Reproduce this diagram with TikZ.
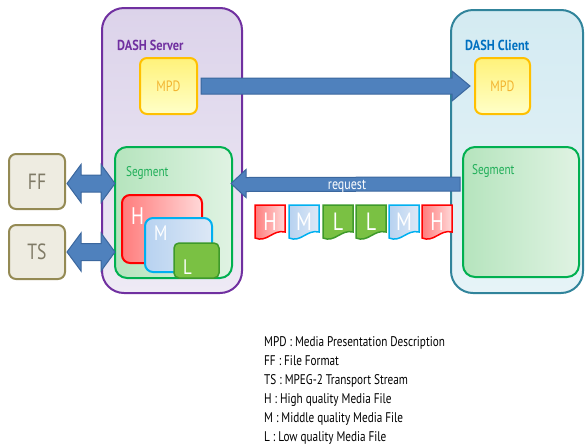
\documentclass[tikz,border=0pt]{standalone}
\usepackage{fontspec}
\setmainfont{PT Sans}
\newfontfamily\nar{PT Sans}[FakeStretch=0.8]
\newfontfamily\narb{PT Sans}[FakeStretch=0.85]
\usetikzlibrary{calc}
\definecolor{arrF}{HTML}{4F81BD}
\definecolor{arrD}{HTML}{3B679E}
\definecolor{srvF}{HTML}{DCD3EA}
\definecolor{srvF2}{HTML}{EEEAF5}
\definecolor{srvD}{HTML}{7030A0}
\definecolor{cliF}{HTML}{D4EBF2}
\definecolor{cliF2}{HTML}{E6F3F7}
\definecolor{cliD}{HTML}{31849B}
\definecolor{cliT}{HTML}{0070C0}
\definecolor{mpdF}{HTML}{FFF27A}
\definecolor{mpdF2}{HTML}{FFFFC8}
\definecolor{mpdD}{HTML}{FFC000}
\definecolor{mpdT}{HTML}{F2B431}
\definecolor{segF}{HTML}{B5E4BD}
\definecolor{segF2}{HTML}{E0F3E3}
\definecolor{segD}{HTML}{00B050}
\definecolor{segT}{HTML}{1FAE58}
\definecolor{hF}{HTML}{FF7C7C}
\definecolor{hF2}{HTML}{FFD8D8}
\definecolor{hD}{HTML}{FF0000}
\definecolor{mF}{HTML}{B7D2F0}
\definecolor{mF2}{HTML}{DDE8F6}
\definecolor{mD}{HTML}{00B0F0}
\definecolor{lF}{HTML}{7AC143}
\definecolor{lD}{HTML}{3E9A2A}
\definecolor{ffF}{HTML}{EEECE1}
\definecolor{ffD}{HTML}{948A54}
\definecolor{ffT}{HTML}{7F7A66}
\tikzset{
  box/.style={anchor=north west, inner sep=0pt, outer sep=0pt},
  srvbox/.style={box, draw=srvD, line width=2pt, rounded corners=22pt, top color=srvF, bottom color=srvF2},
  clibox/.style={box, draw=cliD, line width=2pt, rounded corners=22pt, top color=cliF, bottom color=cliF2},
  mpdbox/.style={box, draw=mpdD, line width=2pt, rounded corners=7pt, top color=mpdF, bottom color=mpdF2},
  segbox/.style={box, draw=segD, line width=2pt, rounded corners=12pt, left color=segF, right color=segF2},
  ffbox/.style={box, draw=ffD, line width=2pt, rounded corners=7pt, fill=ffF},
  hbox/.style={box, draw=hD, line width=2pt, rounded corners=8pt, left color=hF, right color=hF2},
  mbox/.style={box, draw=mD, line width=2pt, rounded corners=8pt, left color=mF, right color=mF2},
  lbox/.style={box, draw=lD, line width=1.5pt, rounded corners=5pt, fill=lF},
  blk/.style={draw=arrD, line width=1pt, fill=arrF},
  title/.style={anchor=base west, inner sep=0pt, font=\narb\bfseries\fontsize{14.5}{16}\selectfont},
  segtext/.style={anchor=base west, inner sep=0pt, text=segT, font=\nar\fontsize{14}{16}\selectfont},
  white/.style={text=white, font=\nar\fontsize{24}{26}\selectfont},
  leg/.style={anchor=base west, inner sep=0pt, font=\nar\fontsize{14}{16}\selectfont},
  hp/.style={draw=hD, line width=1.5pt, left color=hF, right color=hF2},
  mp/.style={draw=mD, line width=1.5pt, left color=mF, right color=mF2},
  lp/.style={draw=lD, line width=1.5pt, fill=lF},
}
\newcommand\pkt[4]{%
  \draw[#3] (#2,205) -- (#2+30,205) -- (#2+30,232)
     .. controls (#2+18,229) and (#2+12,243) .. (#2,238) -- cycle;
  \node[white, anchor=base, inner sep=0pt, font=\nar\fontsize{25}{27}\selectfont] (#1) at (#2+15,230) {#4};
}
\begin{document}
\begin{tikzpicture}[x=1pt,y=-1pt]
\useasboundingbox (0,0) rectangle (585,445);
% containers
\node[srvbox, minimum width=140pt, minimum height=285pt] (server) at (102,8) {};
\node[clibox, minimum width=132pt, minimum height=283pt] (client) at (451,10) {};
\node[title, text=srvD] (stitle) at (117,50) {DASH Server};
\node[title, text=cliT] (ctitle) at (465,50) {DASH Client};
% MPD
\node[mpdbox, minimum width=57pt, minimum height=56pt] (mpdS) at (140,58) {};
\node[text=mpdT, font=\nar\fontsize{15}{17}\selectfont] at (mpdS.center) {MPD};
\node[mpdbox, minimum width=55pt, minimum height=56pt] (mpdC) at (475,58) {};
\node[text=mpdT, font=\nar\fontsize{15}{17}\selectfont] at (mpdC.center) {MPD};
% segments
\node[segbox, minimum width=117pt, minimum height=131pt] (segS) at (115,147) {};
\node[segtext] (segSt) at (126,176) {Segment};
\node[segbox, minimum width=116pt, minimum height=130pt] (segC) at (463,147) {};
\node[segtext] (segCt) at (472,174) {Segment};
% H M L in server
\node[hbox, minimum width=80pt, minimum height=68pt] (hS) at (122,195) {};
\node[white, anchor=base west, inner sep=0pt] (hSt) at (131,224) {H};
\node[mbox, minimum width=67pt, minimum height=54pt] (mS) at (145,218) {};
\node[white, anchor=base west, inner sep=0pt, font=\nar\fontsize{21}{23}\selectfont] (mSt) at (154,240) {M};
\node[lbox, minimum width=45pt, minimum height=35pt] (lS) at (174,243) {};
\node[white, anchor=base west, inner sep=0pt, font=\nar\fontsize{21}{23}\selectfont] (lSt) at (183,274) {L};
% FF TS
\node[ffbox, minimum width=56pt, minimum height=55pt] (ff) at (9,154) {};
\node[text=ffT, font=\nar\fontsize{22}{24}\selectfont] at (ff.center) {FF};
\node[ffbox, minimum width=56pt, minimum height=54pt] (ts) at (9,225) {};
\node[text=ffT, font=\nar\fontsize{22}{24}\selectfont] at (ts.center) {TS};
% MPD arrow
\draw[blk] ($(mpdS.east)+(4,-8)$) -- ($(mpdC.west)+(-23,-8)$) -- ($(mpdC.west)+(-23,-15)$)
  -- ($(mpdC.west)+(-5,0)$) -- ($(mpdC.west)+(-23,15)$) -- ($(mpdC.west)+(-23,8)$)
  -- ($(mpdS.east)+(4,8)$) -- cycle;
% request arrow
\draw[blk] ($(segS.east)+(-1,-29)$) -- ($(segS.east)+(14,-43)$) -- ($(segS.east)+(14,-35)$)
  -- ($(segC.west)+(-3,-35)$) -- ($(segC.west)+(-3,-21)$) -- ($(segS.east)+(14,-21)$)
  -- ($(segS.east)+(14,-15)$) -- cycle;
\node[text=white, anchor=base, inner sep=0pt, font=\nar\fontsize{15}{17}\selectfont] (req) at (347,189) {request};
% double arrows
\foreach \yy/\nm in {183.5/ff, 252/ts}{
  \draw[blk] (67,\yy) -- (81,\yy-19) -- (81,\yy-8.5) -- (101,\yy-8.5) -- (101,\yy-19)
    -- (115,\yy) -- (101,\yy+19) -- (101,\yy+8.5) -- (81,\yy+8.5) -- (81,\yy+19) -- cycle;
}
% packets
\pkt{p1}{255}{hp}{H}
\pkt{p2}{289}{mp}{M}
\pkt{p3}{323}{lp}{L}
\pkt{p4}{356}{lp}{L}
\pkt{p5}{389}{mp}{M}
\pkt{p6}{422}{hp}{H}
% legend
\node[leg] (l1) at (264,346) {MPD : Media Presentation Description};
\node[leg] (l2) at (264,365) {FF : File Format};
\node[leg] (l3) at (264,384) {TS : MPEG-2 Transport Stream};
\node[leg] (l4) at (264,403) {H : High quality Media File};
\node[leg] (l5) at (264,422) {M : Middle quality Media File};
\node[leg] (l6) at (264,441) {L : Low quality Media File};
\end{tikzpicture}
\end{document}
